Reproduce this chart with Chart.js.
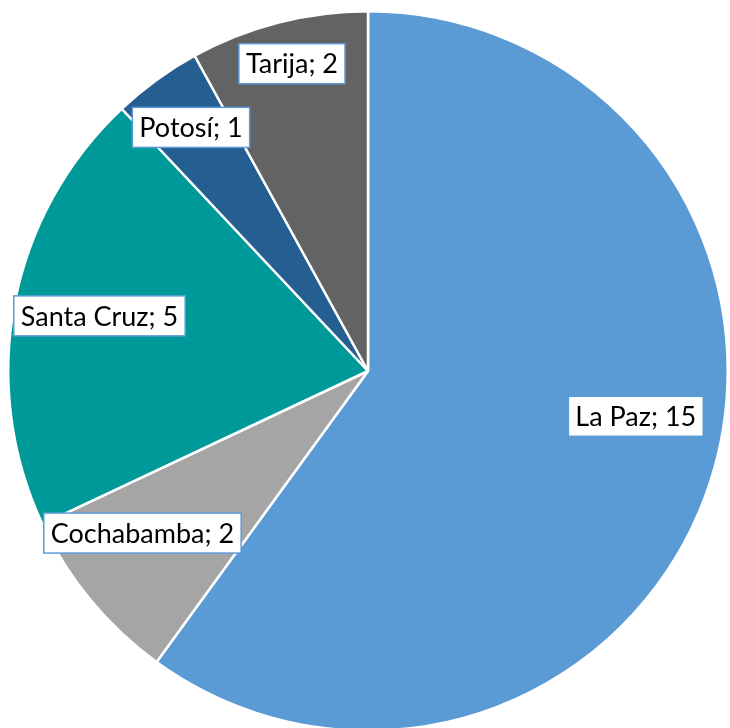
<!DOCTYPE html>
<html>
<head>
<meta charset="utf-8">
<script src="https://cdn.jsdelivr.net/npm/chart.js@4.4.1/dist/chart.umd.min.js"></script>
<style>
  html, body { margin: 0; padding: 0; background: #fff; overflow: hidden; }
  #wrap { position: absolute; left: 0; top: 0; width: 730px; height: 732px; }
</style>
</head>
<body>
<div id="wrap"><canvas id="pie"></canvas></div>
<script>
var departments = ['La Paz', 'Cochabamba', 'Santa Cruz', 'Potosí', 'Tarija'];
var counts = [15, 2, 5, 1, 2];
var sliceColors = ['#5B9BD5', '#A5A5A5', '#009999', '#255E91', '#636363'];

// where each label box sits: fraction of the radius, and a nudge off the slice middle (degrees)
var labelRadius = [0.755, 0.772, 0.762, 0.837, 0.88];
var labelShift = [-8.4, 3.9, 0.8, 0, 0.5];

var boxLabels = {
  id: 'boxLabels',
  afterDatasetsDraw: function(chart) {
    var ctx = chart.ctx;
    var arcs = chart.getDatasetMeta(0).data;
    ctx.save();
    ctx.font = '27px Lato, "Open Sans", sans-serif';
    ctx.textAlign = 'center';
    ctx.textBaseline = 'middle';
    arcs.forEach(function(arc, i) {
      var mid = (arc.startAngle + arc.endAngle) / 2 + labelShift[i] * Math.PI / 180;
      var r = arc.outerRadius * labelRadius[i];
      var cx = arc.x + Math.cos(mid) * r;
      var cy = arc.y + Math.sin(mid) * r;
      var text = departments[i] + '; ' + counts[i];
      var w = ctx.measureText(text).width + 14;
      var h = 40;
      ctx.fillStyle = '#ffffff';
      ctx.fillRect(cx - w / 2, cy - h / 2, w, h);
      ctx.strokeStyle = '#5B9BD5';
      ctx.lineWidth = 1.5;
      ctx.strokeRect(cx - w / 2, cy - h / 2, w, h);
      ctx.fillStyle = '#000000';
      ctx.fillText(text, cx, cy + 1);
    });
    ctx.restore();
  }
};

new Chart(document.getElementById('pie'), {
  type: 'pie',
  data: {
    labels: departments,
    datasets: [{
      data: counts,
      backgroundColor: sliceColors,
      borderColor: '#ffffff',
      borderWidth: 2.5,
      hoverOffset: 0
    }]
  },
  options: {
    responsive: true,
    maintainAspectRatio: false,
    animation: false,
    layout: { padding: { left: 7, right: 1, top: 10, bottom: 0 } },
    plugins: {
      legend: { display: false },
      tooltip: { enabled: false }
    }
  },
  plugins: [boxLabels]
});
</script>
</body>
</html>
